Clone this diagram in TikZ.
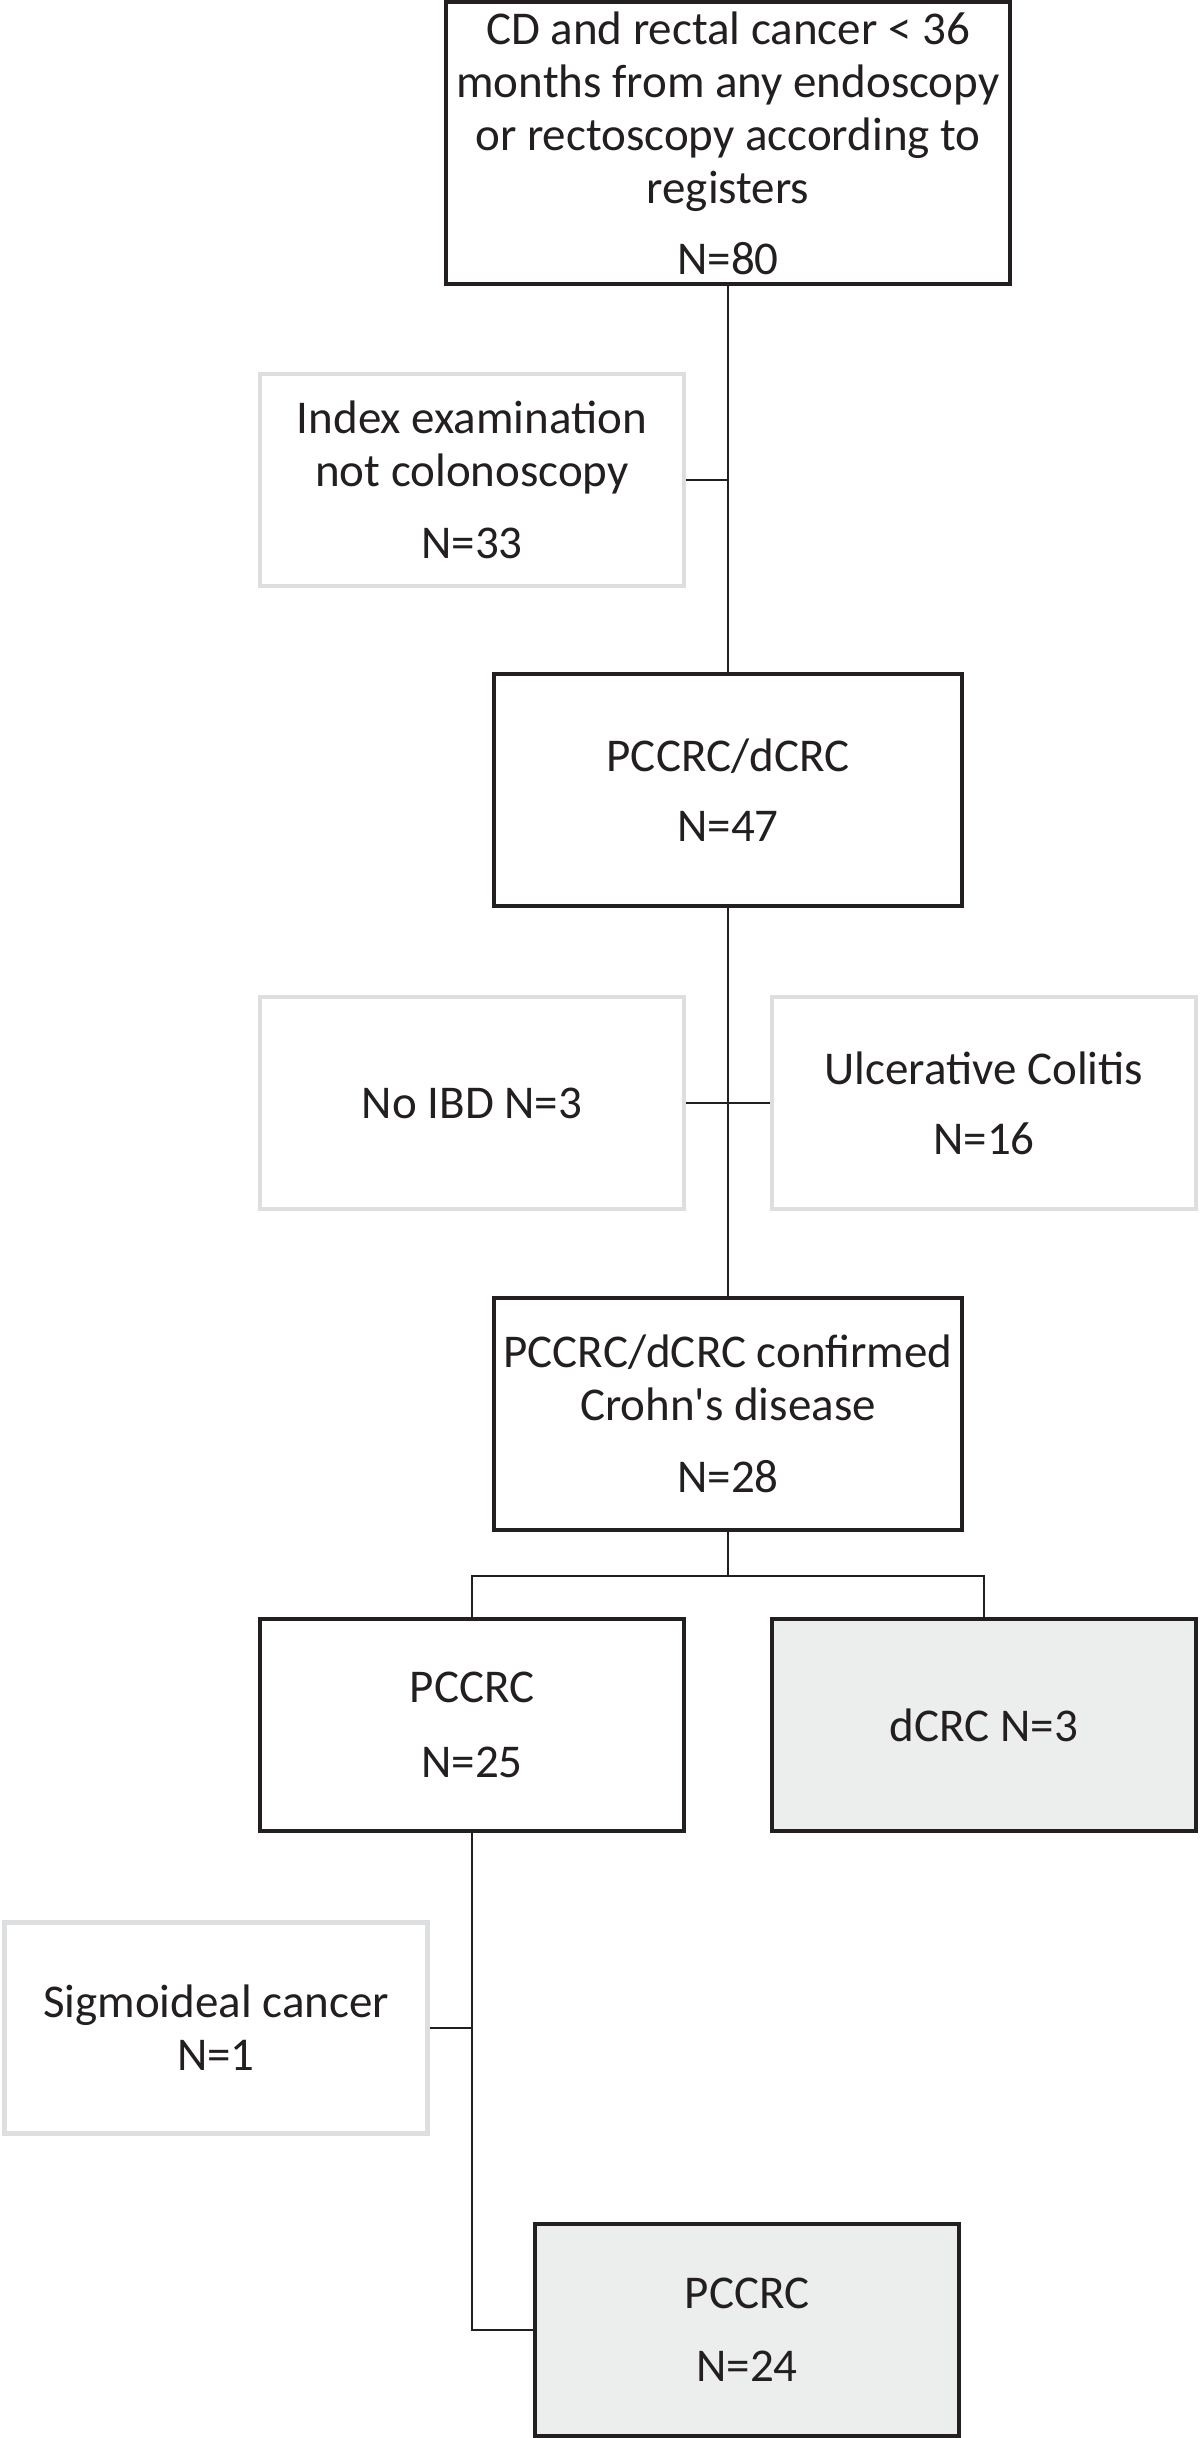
\documentclass[tikz,border=0pt]{standalone}
\usepackage{fontspec}
\setmainfont{Carlito}
\usepackage{tikz}
\usetikzlibrary{positioning,calc}
\definecolor{FlowInk}{RGB}{35,31,32}
\definecolor{FlowFill}{RGB}{236,237,237}
\definecolor{FlowEdge}{RGB}{220,222,224}

\begin{document}
\begin{tikzpicture}[x=0.5pt,y=-0.5pt,
  every node/.style={font=\fontsize{23.5}{26.5}\selectfont,align=center,
    text=FlowInk,inner sep=0pt},
  mainbox/.style={draw=FlowInk,line width=1.7pt,fill=white},
  greybox/.style={mainbox,fill=FlowFill},
  exclbox/.style={draw=FlowEdge,line width=2.2pt,fill=white,
    minimum width=212pt,minimum height=106pt},
  link/.style={draw=FlowInk,line width=1.3pt}]
  \useasboundingbox (0,0) rectangle (1200,2438);

  % main stream
  \node[mainbox,minimum width=282pt,minimum height=141pt] (reg) at (728,143)
    {CD and rectal cancer < 36\\months from any endoscopy\\or rectoscopy according to\\registers\\[9pt]N=80};
  \node[mainbox,minimum width=234pt,minimum height=116pt] (all) at (728,790)
    {PCCRC/dCRC\\[8.5pt]N=47};
  \node[mainbox,minimum width=234pt,minimum height=116pt] (cd) at (728,1414)
    {PCCRC/dCRC confirmed\\Crohn\textquotesingle s disease\\[9.5pt]N=28};
  \node[mainbox,minimum width=212pt,minimum height=106pt] (pc) at (472,1725)
    {PCCRC\\[11pt]N=25};
  \node[greybox,minimum width=212pt,minimum height=106pt] (dc) at (984,1725)
    {dCRC N=3};
  \node[greybox,minimum width=212pt,minimum height=106pt] (pcend) at (747,2330)
    {PCCRC\\[10pt]N=24};

  % exclusions
  \node[exclbox] (notcol) at (472,480)
    {Index examination\\not colonoscopy\\[9.5pt]N=33};
  \node[exclbox] (noibd) at (472,1103) {No IBD N=3};
  \node[exclbox] (uc) at (984,1103) {Ulcerative Colitis\\[8.5pt]N=16};
  \node[exclbox,minimum width=211.5pt,minimum height=105.5pt] (sigm) at (216,2028)
    {Sigmoideal cancer\\N=1};

  \coordinate (split) at (728,1576);
  \coordinate (bend) at (472,2330);

  \draw[link] (reg) -- (all);
  \draw[link] (notcol.east) -- (notcol.east -| reg.south);
  \draw[link] (all) -- (cd);
  \draw[link] (noibd.east) -- (uc.west);
  \draw[link] (cd.south) -- (split) -| (pc.north);
  \draw[link] (split) -| (dc.north);
  \draw[link] (pc.south) -- (bend) -- (pcend.west);
  \draw[link] (sigm.east) -- (sigm.east -| pc.south);
\end{tikzpicture}
\end{document}
